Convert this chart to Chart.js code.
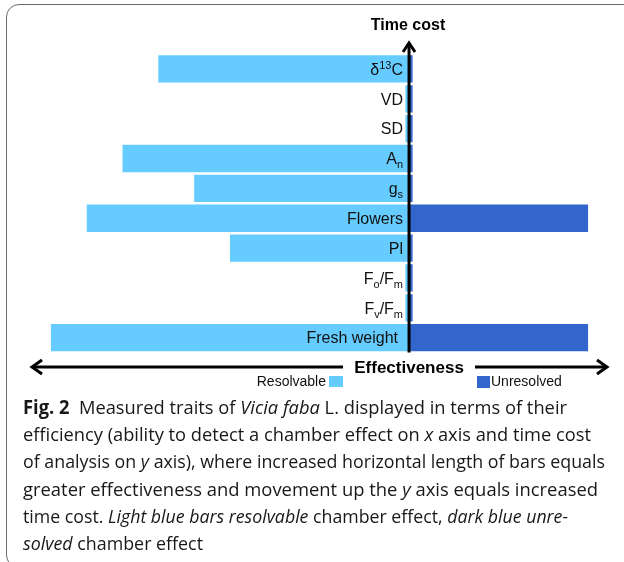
<!DOCTYPE html>
<html>
<head>
<meta charset="utf-8">
<script src="https://cdn.jsdelivr.net/npm/chart.js@4.4.1/dist/chart.umd.min.js"></script>
<style>
	html, body { margin: 0; padding: 0; background: #fff; }
	body { width: 624px; height: 562px; position: relative; overflow: hidden; }
	#frame {
		position: absolute; left: 6px; top: 4px; width: 660px; height: 562px;
		border: 1.5px solid #6a6a6a; border-radius: 13px;
	}
	#chartBox { position: absolute; left: 0; top: 0; width: 624px; height: 395px; }
	#caption {
		position: absolute; left: 23px; top: 394px;
		font-family: "Open Sans", sans-serif; font-size: 19px; line-height: 27.2px;
		color: #1a1718;
	}
	#caption div { white-space: nowrap; transform-origin: 0 0; width: max-content; }
</style>
</head>
<body>
<div id="frame"></div>
<div id="chartBox"><canvas id="traitsChart"></canvas></div>
<div id="caption">
	<div><b>Fig. 2</b>&nbsp; Measured traits of <i>Vicia faba</i> L. displayed in terms of their</div>
	<div>efficiency (ability to detect a chamber effect on <i>x</i> axis and time cost</div>
	<div>of analysis on <i>y</i> axis), where increased horizontal length of bars equals</div>
	<div>greater effectiveness and movement up the <i>y</i> axis equals increased</div>
	<div>time cost. <i>Light blue bars resolvable</i> chamber effect, <i>dark blue unre-</i></div>
	<div><i>solved</i> chamber effect</div>
</div>
<script>
// trait names (^ = superscript, _ = subscript), top to bottom
const categories = ['δ^13C', 'VD', 'SD', 'A_n', 'g_s', 'Flowers', 'Pl', 'F_o/F_m', 'F_v/F_m', 'Fresh weight'];
// bar lengths in effectiveness units
const resolvable = [7, 0.1, 0.1, 8, 6, 9, 5, 0.1, 0.1, 10];
const unresolved = [0.1, 0.1, 0.1, 0.1, 0.1, 5, 0.1, 0.1, 0.1, 5];
const seriesNames = ['Resolvable', 'Unresolved'];
const axisTitles = ['Time cost', 'Effectiveness'];
const xMin = -10.5, xMax = 5.5;

const lightBlue = '#66ccff';
const darkBlue = '#3366cc';

// squeeze each caption line so it ends where the printed one does
(function () {
	const lineWidths = [544, 568, 582, 575, 545, 180];
	document.querySelectorAll('#caption div').forEach((d, i) => {
		const w = d.getBoundingClientRect().width;
		d.style.transform = 'scaleX(' + (lineWidths[i] / w) + ')';
	});
})();

function drawRichLabel(ctx, text, right, y) {
	// split into pieces: normal / sup / sub
	const parts = [];
	const re = /(\^\d+|_\w)/g;
	let last = 0, m;
	while ((m = re.exec(text)) !== null) {
		if (m.index > last) parts.push({ t: text.slice(last, m.index), k: 'n' });
		parts.push({ t: m[0].slice(1), k: m[0][0] === '^' ? 'sup' : 'sub' });
		last = re.lastIndex;
	}
	if (last < text.length) parts.push({ t: text.slice(last), k: 'n' });

	const fontFor = k => (k === 'n' ? '16px' : '11px') + ' "Liberation Sans", Arial, sans-serif';
	let total = 0;
	parts.forEach(p => { ctx.font = fontFor(p.k); p.w = ctx.measureText(p.t).width; total += p.w; });

	let x = right - total;
	const base = y + 5.8;
	parts.forEach(p => {
		ctx.font = fontFor(p.k);
		let dy = 0;
		if (p.k === 'sup') dy = -6;
		if (p.k === 'sub') dy = 4;
		ctx.fillText(p.t, x, base + dy);
		x += p.w;
	});
}

function chevron(ctx, x, y, dir) {
	// open arrow head, dir: 'up' | 'left' | 'right'
	ctx.beginPath();
	if (dir === 'up') {
		ctx.moveTo(x - 6, y + 9); ctx.lineTo(x, y); ctx.lineTo(x + 6, y + 9);
	} else if (dir === 'left') {
		ctx.moveTo(x + 10, y - 7); ctx.lineTo(x, y); ctx.lineTo(x + 10, y + 7);
	} else {
		ctx.moveTo(x - 10, y - 7); ctx.lineTo(x, y); ctx.lineTo(x - 10, y + 7);
	}
	ctx.stroke();
}

const overlayPlugin = {
	id: 'overlay',
	afterDatasetsDraw(chart) {
		const ctx = chart.ctx;
		const xs = chart.scales.x;
		const area = chart.chartArea;
		const x0 = xs.getPixelForValue(0);
		const meta = chart.getDatasetMeta(0);

		ctx.save();
		// trait labels inside the bars, next to the axis
		ctx.fillStyle = '#111';
		ctx.textAlign = 'left';
		ctx.textBaseline = 'alphabetic';
		categories.forEach((c, i) => {
			const pad = c === 'Fresh weight' ? 11 : 6;
			drawRichLabel(ctx, c, x0 - pad, meta.data[i].y);
		});

		ctx.strokeStyle = '#000';
		ctx.lineWidth = 3;
		ctx.lineCap = 'butt';
		ctx.lineJoin = 'miter';

		// vertical time cost axis
		ctx.beginPath();
		ctx.moveTo(x0, area.bottom);
		ctx.lineTo(x0, 44);
		ctx.stroke();
		chevron(ctx, x0, 43, 'up');

		// horizontal effectiveness axis
		const yA = 367;
		const left = xs.getPixelForValue(xMin) - 1, right = xs.getPixelForValue(xMax) + 1;
		ctx.beginPath();
		ctx.moveTo(left + 1, yA); ctx.lineTo(343, yA);
		ctx.moveTo(475, yA); ctx.lineTo(right - 1, yA);
		ctx.stroke();
		chevron(ctx, left, yA, 'left');
		chevron(ctx, right, yA, 'right');

		// axis titles
		ctx.fillStyle = '#000';
		ctx.textAlign = 'center';
		ctx.textBaseline = 'middle';
		ctx.font = 'bold 16px "Liberation Sans", Arial, sans-serif';
		ctx.fillText(axisTitles[0], x0 - 1, 26);
		ctx.font = 'bold 17px "Liberation Sans", Arial, sans-serif';
		ctx.fillText(axisTitles[1], x0, 368);

		// legend
		ctx.font = '14px "Liberation Sans", Arial, sans-serif';
		ctx.fillStyle = '#111';
		ctx.textAlign = 'right';
		ctx.fillText(seriesNames[0], 326, 382);
		ctx.fillStyle = lightBlue;
		ctx.fillRect(329, 376, 14, 11);
		ctx.fillStyle = darkBlue;
		ctx.fillRect(477, 376, 13, 12);
		ctx.fillStyle = '#111';
		ctx.textAlign = 'left';
		ctx.fillText(seriesNames[1], 491, 382);
		ctx.restore();
	}
};

const ctx = document.getElementById('traitsChart').getContext('2d');
const traitsChart = new Chart(ctx, {
	type: 'bar',
	data: {
		labels: categories,
		datasets: [
			{
				label: seriesNames[0],
				data: resolvable.map(v => -v),
				backgroundColor: lightBlue,
				borderWidth: 0,
				stack: 'effect'
			},
			{
				label: seriesNames[1],
				data: unresolved,
				backgroundColor: darkBlue,
				borderWidth: 0,
				stack: 'effect'
			}
		]
	},
	options: {
		indexAxis: 'y',
		responsive: true,
		maintainAspectRatio: false,
		animation: false,
		layout: {
			padding: { left: 33, right: 18, top: 54, bottom: 42.4 }
		},
		datasets: {
			bar: { categoryPercentage: 1, barPercentage: 0.914 }
		},
		scales: {
			x: { type: 'linear', min: xMin, max: xMax, stacked: true, display: false },
			y: { type: 'category', stacked: true, display: false }
		},
		plugins: {
			legend: { display: false },
			tooltip: { enabled: false }
		}
	},
	plugins: [overlayPlugin]
});
</script>
</body>
</html>
